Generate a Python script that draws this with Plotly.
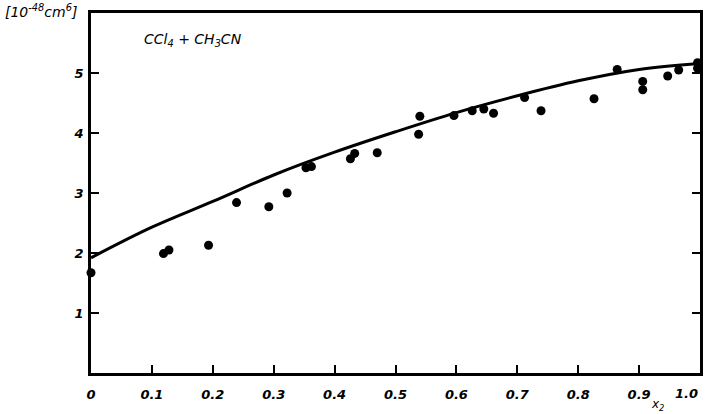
import plotly.graph_objects as go

# Measured mole-fraction dependence for CCl4 + CH3CN
x2_meas = [0.0, 0.119, 0.128, 0.193, 0.239, 0.292, 0.322, 0.353, 0.362,
           0.426, 0.433, 0.470, 0.538, 0.540, 0.596, 0.626, 0.645, 0.661,
           0.712, 0.739, 0.826, 0.864, 0.906, 0.906, 0.947, 0.965, 0.996, 0.996]
val_meas = [1.67, 1.99, 2.05, 2.13, 2.84, 2.77, 3.00, 3.42, 3.44,
            3.57, 3.66, 3.67, 3.98, 4.28, 4.29, 4.37, 4.40, 4.33,
            4.59, 4.37, 4.57, 5.06, 4.86, 4.72, 4.95, 5.05, 5.17, 5.08]

# Calculated curve
x2_calc = [0.0, 0.1, 0.2, 0.3, 0.4, 0.5, 0.6, 0.7, 0.8, 0.9, 1.0]
val_calc = [1.92, 2.43, 2.86, 3.30, 3.68, 4.02, 4.34, 4.62, 4.87, 5.06, 5.16]

x_tickvals = [0, 0.1, 0.2, 0.3, 0.4, 0.5, 0.6, 0.7, 0.8, 0.9]
x_ticktext = ["0", "0.1", "0.2", "0.3", "0.4", "0.5", "0.6", "0.7", "0.8", "0.9"]
y_tickvals = [1, 2, 3, 4, 5]
y_ticktext = ["1", "2", "3", "4", "5"]

tick_font = dict(family="DejaVu Sans", size=13, color="black", style="italic", weight="bold")
label_font = dict(family="DejaVu Sans", size=14, color="black", style="italic")

fig = go.Figure()
fig.add_trace(go.Scatter(x=x2_calc, y=val_calc, mode="lines", line=dict(color="black", width=3, shape="spline"),
                         showlegend=False, hoverinfo="skip"))
fig.add_trace(go.Scatter(x=x2_meas, y=val_meas, mode="markers", marker=dict(color="black", size=9),
                         showlegend=False, cliponaxis=False))

fig.update_xaxes(range=[0, 1.0], tickvals=x_tickvals + [1.0], ticktext=x_ticktext + [""],
                 ticks="inside", ticklen=8, tickwidth=2, tickcolor="black",
                 showline=True, linewidth=2.5, linecolor="black", mirror=True,
                 showgrid=False, zeroline=False, tickfont=tick_font, ticklabelstandoff=8)
fig.update_yaxes(range=[0, 6], tickvals=y_tickvals, ticktext=y_ticktext,
                 ticks="inside", ticklen=8, tickwidth=2, tickcolor="black",
                 showline=True, linewidth=2.5, linecolor="black", mirror="ticks",
                 showgrid=False, zeroline=False, tickfont=tick_font, ticklabelstandoff=2)

fig.add_annotation(x=1.0, y=0, xref="x", yref="paper", text="1.0", showarrow=False,
                   xanchor="right", yanchor="top", yshift=-11, font=tick_font)
fig.add_annotation(x=0.93, y=0, xref="x", yref="paper", text="x<sub>2</sub>", showarrow=False,
                   xanchor="center", yanchor="top", yshift=-22,
                   font=dict(family="DejaVu Sans", size=12, color="black", style="italic"))
fig.add_annotation(x=-0.145, y=1.035, xref="paper", yref="paper",
                   text="[10<sup>-48</sup>cm<sup>6</sup>]", showarrow=False,
                   xanchor="left", yanchor="top", font=label_font)
fig.add_annotation(x=0.083, y=0.925, xref="paper", yref="paper",
                   text="CCl<sub>4</sub> + CH<sub>3</sub>CN", showarrow=False,
                   xanchor="left", yanchor="middle", font=label_font)

fig.update_layout(width=706, height=414, margin=dict(l=91, r=3, t=13, b=41),
                  plot_bgcolor="white", paper_bgcolor="white")

fig.write_html("out.html")
